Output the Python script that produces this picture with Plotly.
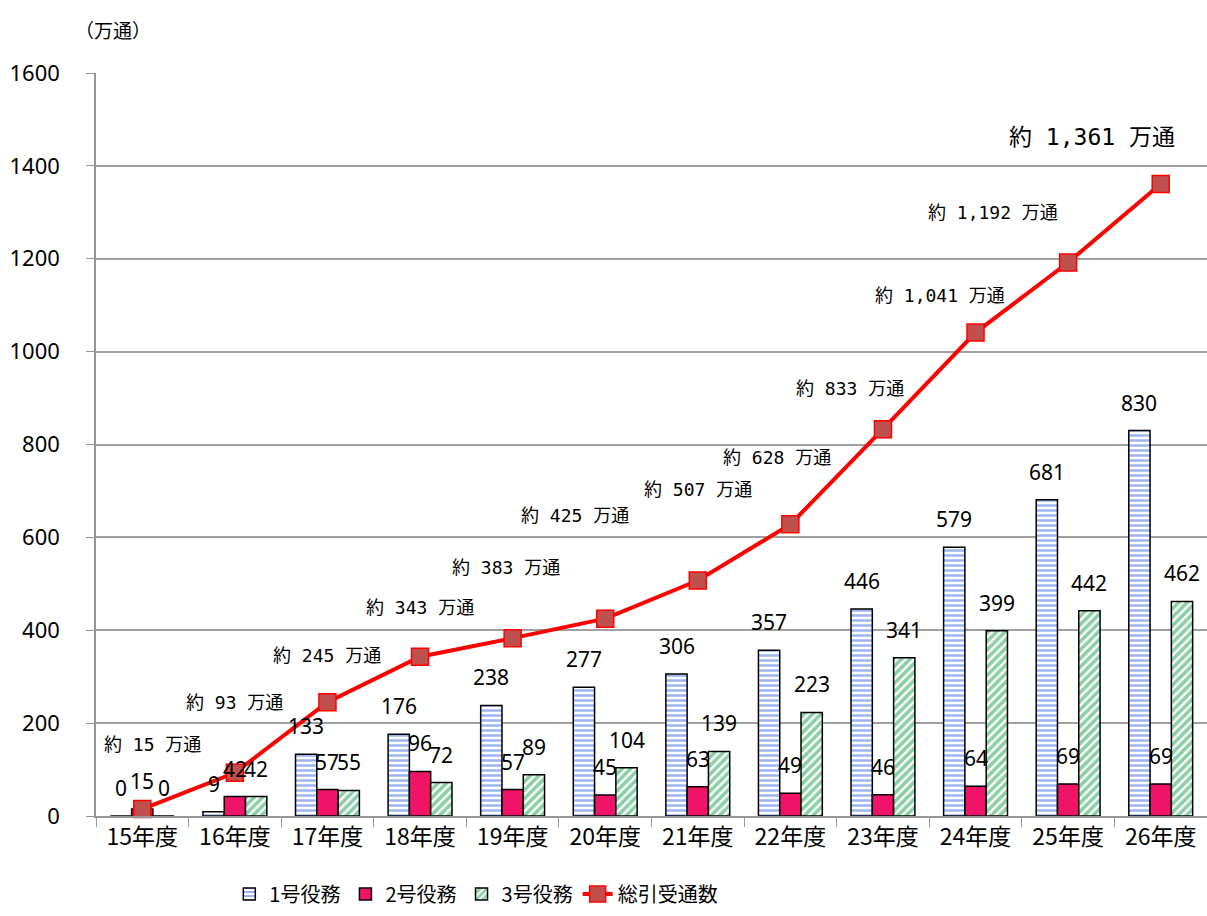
import plotly.graph_objects as go

categories = ["15年度", "16年度", "17年度", "18年度", "19年度", "20年度",
              "21年度", "22年度", "23年度", "24年度", "25年度", "26年度"]
duty1 = [0, 9, 133, 176, 238, 277, 306, 357, 446, 579, 681, 830]
duty2 = [15, 42, 57, 96, 57, 45, 63, 49, 46, 64, 69, 69]
duty3 = [0, 42, 55, 72, 89, 104, 139, 223, 341, 399, 442, 462]
total = [15, 93, 245, 343, 383, 425, 507, 628, 833, 1041, 1192, 1361]
total_labels = ["約 15 万通", "約 93 万通", "約 245 万通", "約 343 万通", "約 383 万通",
                "約 425 万通", "約 507 万通", "約 628 万通", "約 833 万通",
                "約 1,041 万通", "約 1,192 万通", "約 1,361 万通"]

# label placement (pixel offsets from each point)
label_dx = [10, 0, 0, 0, -7, -30, 0, -13, -33, -36, -75, -69]
label_dy = [65, 70, 47, 49, 71, 103, 91, 67, 41, 37, 50, 47]

FONT = "Noto Sans, Noto Sans CJK JP, sans-serif"
JFONT = "Noto Sans CJK JP, sans-serif"
MFONT = "DejaVu Sans Mono, Noto Sans CJK JP, monospace"

BARGAP = 0.31
series = [
    ("1号役務", duty1, dict(color="white", line=dict(color="black", width=1.5),
                          pattern=dict(shape="-", fgcolor="#3a6ae0", bgcolor="white", size=5, solidity=0.5))),
    ("2号役務", duty2, dict(color="#F01468", line=dict(color="black", width=1.5))),
    ("3号役務", duty3, dict(color="white", line=dict(color="black", width=1.5),
                          pattern=dict(shape="/", fgcolor="#17a04c", bgcolor="white", size=6, solidity=0.6))),
]

fig = go.Figure()
for name, vals, marker in series:
    fig.add_trace(go.Bar(x=categories, y=vals, name=name, marker=marker))

fig.add_trace(go.Scatter(
    x=categories, y=total, name="総引受通数", mode="lines+markers",
    line=dict(color="#FF0000", width=4),
    marker=dict(symbol="square", size=17, color="#C0504D", line=dict(color="#FF0000", width=1.5)),
    cliponaxis=False,
))

# bar value labels, positioned over each bar of the group
bw = (1 - BARGAP) / len(series)
for j, (name, vals, marker) in enumerate(series):
    off = (j - (len(series) - 1) / 2) * bw
    for i, v in enumerate(vals):
        fig.add_annotation(x=i + off, y=v, text=str(v), showarrow=False,
                           yanchor="bottom", yshift=12,
                           font=dict(size=21, color="black", family=FONT))

for i, (c, v, t) in enumerate(zip(categories, total, total_labels)):
    fig.add_annotation(x=i, y=v, text=t, showarrow=False,
                       xshift=label_dx[i], yshift=label_dy[i],
                       font=dict(size=23 if i == len(total) - 1 else 18, color="black", family=MFONT))

fig.add_annotation(xref="paper", yref="paper", x=0.015, y=1.058, xanchor="center", yanchor="middle",
                   text="（万通）", showarrow=False,
                   font=dict(size=19, color="black", family=JFONT))

fig.update_layout(
    width=1207, height=916,
    margin=dict(l=96, r=0, t=73, b=100, autoexpand=False),
    plot_bgcolor="white", paper_bgcolor="white",
    barmode="group", bargap=BARGAP, bargroupgap=0,
    font=dict(family=FONT, color="black"),
    legend=dict(orientation="h", x=0.12, xanchor="left", y=-0.105, yanchor="middle",
                font=dict(size=20, family=JFONT), traceorder="normal",
                itemwidth=30),
    showlegend=True,
)
fig.update_xaxes(range=[-0.5, 11.5], showline=True, linecolor="#969696", linewidth=1.5,
                 ticks="outside", tickson="boundaries", ticklen=9, tickcolor="#969696",
                 tickfont=dict(size=23, family=JFONT))
fig.update_yaxes(range=[0, 1600], dtick=200, showgrid=True, gridcolor="#a0a0a0", gridwidth=1.5,
                 showline=True, linecolor="#969696", linewidth=1.5,
                 ticks="outside", ticklen=8, tickcolor="#969696", ticklabelstandoff=22,
                 tickfont=dict(size=22, family=FONT), zeroline=False)

fig.write_html("out.html")
